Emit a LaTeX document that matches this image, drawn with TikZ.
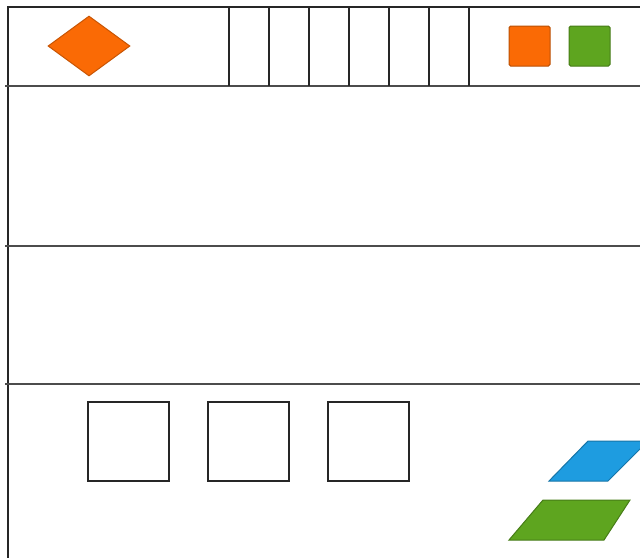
\documentclass[tikz,border=0pt]{standalone}
\usepackage{tikz}
\usetikzlibrary{shapes.geometric}
\definecolor{wforange}{HTML}{FA6A05}
\definecolor{wfgreen}{HTML}{5EA51F}
\definecolor{wfblue}{HTML}{1E9CE0}
\begin{document}
\begin{tikzpicture}[x=0.5pt, y=-0.5pt,
        rule/.style={draw=black!85, line width=1pt},
        band/.style={draw=black!70, line width=1.1pt},
        slot/.style={draw=black!85, line width=0.9pt, minimum width=40.5pt, minimum height=39.5pt, inner sep=0},
        chip/.style={draw=#1!75!black, fill=#1, line width=0.5pt, rounded corners=0.8pt, minimum width=20.5pt, minimum height=20pt, inner sep=0}]
        \useasboundingbox (0,0) rectangle (640,558);
        \clip (0,0) rectangle (640,558);
        \draw[rule] (640,7) -- (8,7) -- (8,558);
        \foreach \y in {86,246,384} \draw[band] (5,\y) -- (640,\y);
        \foreach \x in {229,269,...,469} \draw[rule] (\x,7) -- (\x,86);
        \node[diamond, fill=wforange, draw=wforange!80!black, line width=0.5pt, minimum width=41pt, minimum height=30pt, inner sep=0] (logo) at (89,46) {};
        \node[chip=wforange] (btnone) at (529.5,46) {};
        \node[chip=wfgreen] (btntwo) at (589.5,46) {};
        \foreach \i/\x in {1/128.5,2/248.5,3/368.5}
            \node[slot] (card\i) at (\x,441.5) {};
        \draw[draw=wfblue!75!black, fill=wfblue, line width=0.5pt] (588,441) -- (648,441) -- (608,481) -- (549,481) -- cycle;
        \draw[draw=wfgreen!75!black, fill=wfgreen, line width=0.5pt] (543,500) -- (630,500) -- (604,540) -- (509,540) -- cycle;
    \end{tikzpicture}
\end{document}
